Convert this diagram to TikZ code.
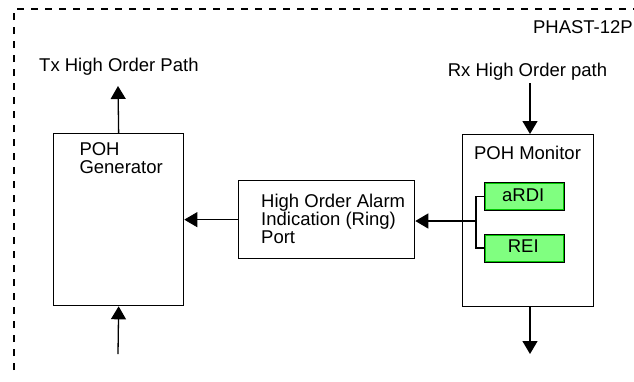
\documentclass[tikz,border=0pt]{standalone}
\usepackage{fontspec}
\setmainfont{Liberation Sans}
\usetikzlibrary{arrows.meta}
\definecolor{flagfill}{RGB}{128,255,128}
\definecolor{flagline}{RGB}{0,200,0}
\begin{document}
\begin{tikzpicture}[x=1pt,y=-1pt,
  box/.style={draw,line width=1.3pt,inner sep=0pt,anchor=north west},
  flagbox/.style={draw,fill=flagfill,line width=1.6pt,inner sep=0pt,anchor=north west,minimum width=79.5pt,minimum height=27.5pt},
  lbl/.style={inner sep=0pt,anchor=base west,font=\fontsize{18.5pt}{18pt}\selectfont},
  clbl/.style={lbl,anchor=base},
  arr/.style={line width=1.3pt,-{Triangle[length=13pt,width=15pt]}},
  thinarr/.style={line width=0.8pt,-{Triangle[length=13pt,width=15pt]}},
]
\useasboundingbox (0,0) rectangle (634,381);
\draw[dash pattern=on 7pt off 7pt, line width=1.3pt] (14,370) -- (14,9) -- (634,9);

% boxes
\node[box,minimum width=130pt,minimum height=172pt] (gen) at (53,133) {};
\node[box,minimum width=176pt,minimum height=78pt] (alarm) at (238,180) {};
\node[box,minimum width=131pt,minimum height=172pt] (mon) at (462,134) {};
\node[flagbox] (ardi) at (483.5,182) {};
\node[flagbox] (rei) at (483.5,233.5) {};
\draw[flagline,line width=1pt] ([xshift=1.6pt,yshift=-1.6pt]ardi.north west) rectangle ([xshift=-1.6pt,yshift=1.6pt]ardi.south east);
\draw[flagline,line width=1pt] ([xshift=1.6pt,yshift=-1.6pt]rei.north west) rectangle ([xshift=-1.6pt,yshift=1.6pt]rei.south east);

% texts
\node[lbl] (tx) at (39,71) {Tx High Order Path};
\node[clbl] (rx) at (527.5,76) {Rx High Order path};
\node[lbl,anchor=base east] (phast) at (633,33) {PHAST-12P};
\node[clbl] (montxt) at (527.5,159.3) {POH Monitor};
\node[lbl] (gentxt1) at (79.3,155) {POH};
\node[lbl] (gentxt2) at (79.3,173.3) {Generator};
\node[lbl] (al1) at (261,207.7) {High Order Alarm};
\node[lbl] (al2) at (261,225.3) {Indication (Ring)};
\node[lbl] (al3) at (261,243) {Port};
\node[clbl] (arditxt) at (523.25,201.7) {aRDI};
\node[clbl] (reitxt) at (523.25,252.7) {REI};

% connectors
\coordinate (txend) at (118,86);
\coordinate (genin) at (118,354);
\coordinate (rxstart) at (530,83);
\coordinate (outend) at (530,354);
\coordinate (br) at (476,221);
\draw[arr] (gen.north) -- (txend);
\draw[arr] (genin) -- (gen.south);
\draw[arr] (rxstart) -- (rxstart |- mon.north);
\draw[arr] (mon.south -| rxstart) -- (outend);
\draw[thinarr] (alarm.west) -- (gen.east |- alarm.west);
\draw[line width=1.3pt] (ardi.west) -| (br) |- (rei.west);
\draw[arr] (br) -- (alarm.east |- br);
\end{tikzpicture}
\end{document}
